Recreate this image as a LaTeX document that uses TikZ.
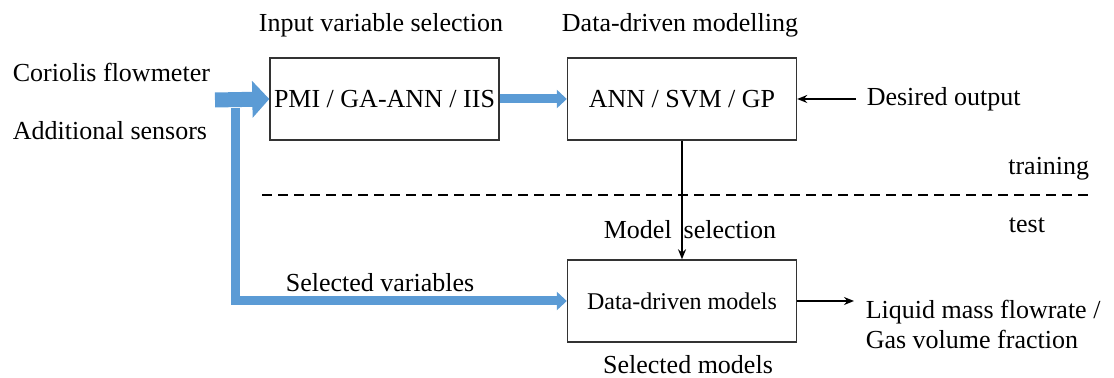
\documentclass[tikz,border=0pt]{standalone}
\usepackage{fontspec}
\setmainfont{Liberation Serif}
\usetikzlibrary{arrows.meta}

\definecolor{flowblue}{HTML}{5B9BD5}
\tikzset{
  blockbox/.style={draw=black!80, line width=0.7pt, minimum width=114.5pt, minimum height=41pt, inner sep=0pt},
  bigflow/.style={draw=flowblue, line width=7.5pt, -{Triangle[width=18pt,length=8.5pt]}},
  flow/.style={draw=flowblue, line width=4.5pt, line join=miter, -{Triangle[width=9pt,length=5pt]}},
  sigline/.style={line width=0.8pt, -{Stealth[length=5pt,width=4pt]}},
  lbl/.style={inner sep=0pt, font=\fontsize{13}{15}\selectfont}
}

\begin{document}
\begin{tikzpicture}[x=0.5pt, y=-0.5pt, thick]
  \useasboundingbox (0,0) rectangle (1114,378);

  \node[blockbox, lbl] (pmi) at (384.5,99) {PMI / GA-ANN / IIS};
  \node[blockbox, lbl] (ann) at (682,99) {ANN / SVM / GP};
  \node[blockbox, font=\fontsize{12}{14}\selectfont] (ddm) at (682,301) {Data-driven models};

  \node[lbl] (ivs) at (381,25) {Input variable selection};
  \node[lbl] (ddmod) at (680,25) {Data-driven modelling};
  \node[lbl, anchor=west] (cor) at (12,72) {Coriolis flowmeter};
  \node[lbl, anchor=west] (add) at (12,131) {Additional sensors};
  \node[lbl, anchor=west] (des) at (866,99) {Desired output};
  \node[lbl, anchor=east] (trn) at (1090,169) {training};
  \node[lbl] (tst) at (1027,225) {test};
  \node[lbl] (msel) at (690,230) {Model\hspace{6pt}selection};
  \node[lbl, anchor=west] (svar) at (285,283) {Selected variables};
  \node[lbl] (smod) at (688,365) {Selected models};
  \node[lbl, anchor=west, align=left] (out) at (865,324) {Liquid mass flowrate /\\Gas volume fraction};

  \coordinate (src) at (215,100);
  \coordinate (split) at (235,100);
  \coordinate (dl) at (262,195);
  \coordinate (dr) at (1093,195);

  % sensor data into selection, selected variables down to the models
  \draw[bigflow] (src) -- (pmi.west);
  \draw[flow] ([yshift=-4pt]split) |- (ddm.west);
  \draw[flow] (pmi.east) -- (ann.west);

  \path[sigline]
    ([xshift=-5pt]des.west) edge (ann.east)
    (ann.south) edge (ddm.north)
    (ddm.east) edge ([xshift=-5.5pt]out.west |- ddm.east);

  \draw[line width=1.3pt, dash pattern=on 5pt off 3pt] (dl) -- (dr);
\end{tikzpicture}
\end{document}
